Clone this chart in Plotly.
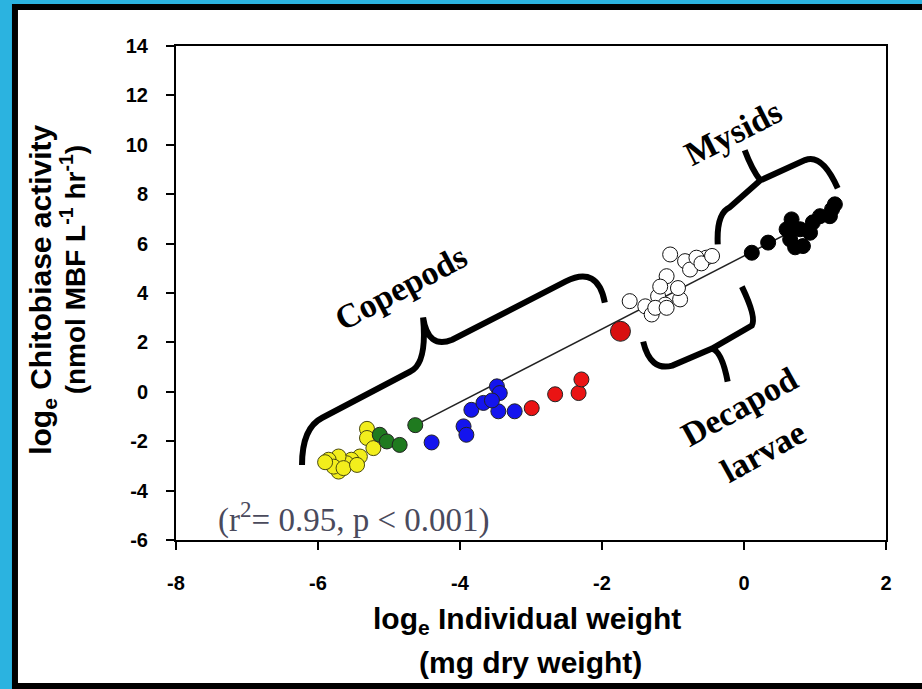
import plotly.graph_objects as go

# Zooplankton groups: loge individual weight (mg DW) vs loge chitobiase activity
yellow_x = [-5.31, -5.31, -5.22, -5.41, -5.53, -5.60, -5.71, -5.85, -5.71, -5.78, -5.64, -5.45, -5.90]
yellow_y = [-1.50, -1.87, -2.28, -2.62, -2.75, -2.89, -2.62, -2.75, -3.23, -3.03, -3.09, -2.96, -2.85]

green_x = [-5.13, -5.03, -4.85, -4.63]
green_y = [-1.74, -2.01, -2.15, -1.35]

blue_x = [-4.40, -3.95, -3.91, -3.84, -3.67, -3.48, -3.44, -3.46, -3.23, -3.55]
blue_y = [-2.05, -1.40, -1.74, -0.73, -0.45, 0.22, -0.05, -0.79, -0.79, -0.35]

red_x = [-2.99, -2.66, -2.33, -2.29]
red_y = [-0.66, -0.10, -0.05, 0.50]

red_big_x = [-1.74]
red_big_y = [2.45]

white_x = [-1.61, -1.39, -1.30, -1.21, -1.11, -1.09, -1.04, -0.83, -0.76, -0.53,
           -0.90, -1.25, -0.93, -1.18, -0.67, -1.09, -0.60, -0.45]
white_y = [3.67, 3.46, 3.13, 3.87, 3.53, 4.68, 5.56, 5.29, 4.95, 5.43,
           3.74, 3.40, 4.20, 4.26, 5.43, 3.40, 5.20, 5.50]

black_x = [0.11, 0.34, 0.67, 0.65, 0.79, 0.93, 0.83, 1.07, 1.24, 1.28, 1.21, 0.60, 0.97, 0.72]
black_y = [5.63, 6.04, 6.98, 6.17, 6.58, 6.44, 5.90, 7.11, 7.39, 7.59, 7.11, 6.58, 6.86, 5.85]

# Regression fit
fit_intercept = 5.50
fit_slope = 1.48
fit_x = [-4.63, 1.30]
fit_y = [fit_intercept + fit_slope * v for v in fit_x]

x_ticks = [-8, -6, -4, -2, 0, 2]
y_ticks = [-6, -4, -2, 0, 2, 4, 6, 8, 10, 12, 14]

fig = go.Figure()

fig.add_trace(go.Scatter(x=fit_x, y=fit_y, mode="lines",
                         line=dict(color="#222222", width=1.5), hoverinfo="skip"))


def group(xs, ys, fill, size=15, edge="#222222"):
    fig.add_trace(go.Scatter(
        x=xs, y=ys, mode="markers",
        marker=dict(size=size, color=fill, line=dict(color=edge, width=1)),
    ))


group(yellow_x, yellow_y, "#f2ee1c", edge="#4a4a10")
group(green_x, green_y, "#1f7a1f")
group(blue_x, blue_y, "#1414ee")
group(red_x, red_y, "#ea1414")
group(red_big_x, red_big_y, "#d81010", size=20)
group(white_x, white_y, "white", edge="#111111")
group(black_x, black_y, "black", edge="black")

# Curly brackets marking the taxonomic groups (data coordinates)
brackets = [
    # Copepods
    "M -6.225,-2.96 Q -6.225,-1.46 -5.94,-1.05 L -4.70,0.82 Q -4.46,1.14 -4.52,3.01 "
    "Q -4.45,1.71 -4.11,2.11 L -2.51,4.47 Q -2.06,5.12 -1.96,3.61",
    # Mysids
    "M -0.37,5.97 Q -0.39,7.23 -0.20,7.47 L 0.23,8.56 L 0.86,9.38 Q 1.10,9.66 1.32,8.24 "
    "M 0.23,8.56 Q 0.11,9.01 0.01,9.78",
    # Decapod larvae
    "M -1.42,2.03 Q -1.32,0.82 -1.01,1.06 L -0.45,1.75 L 0.11,2.68 Q 0.18,3.01 -0.03,4.26 "
    "M -0.45,1.75 Q -0.31,1.63 -0.23,0.41",
]
shapes = [dict(type="path", path=p, xref="x", yref="y",
               line=dict(color="black", width=6), layer="above") for p in brackets]

# White panel with black frame over the cyan page
shapes.insert(0, dict(type="rect", xref="paper", yref="paper",
                      x0=-0.2268, x1=1.07, y0=-0.2955, y1=1.079,
                      fillcolor="white", line=dict(color="black", width=6),
                      layer="below"))

label_font = dict(family="Liberation Serif", size=34, color="black", weight="bold")
annotations = [
    dict(x=-4.83, y=4.22, text="Copepods", textangle=-28, font=label_font),
    dict(x=-0.15, y=10.5, text="Mysids", textangle=-27, font=label_font),
    dict(x=-0.06, y=-0.60, text="Decapod", textangle=-29, font=label_font),
    dict(x=0.27, y=-2.43, text="larvae", textangle=-29, font=label_font),
    dict(x=-7.43, y=-5.1, text="(r<sup>2</sup>= 0.95, p < 0.001)", xanchor="left",
         font=dict(family="Liberation Serif", size=33, color="#4a4a5c")),
]
for a in annotations:
    a.update(xref="x", yref="y", showarrow=False)

title_font = dict(family="Liberation Sans", size=30, color="black", weight="bold")
titles = [
    dict(x=-0.189, y=0.506, textangle=-90, text="log<sub>e</sub> Chitobiase activity"),
    dict(x=-0.145, y=0.548, textangle=-90, text="(nmol MBF L<sup>-1</sup> hr<sup>-1</sup>)",
         font=dict(title_font, size=28)),
    dict(x=0.495, y=-0.162, text="log<sub>e</sub> Individual weight"),
    dict(x=0.499, y=-0.247, text="(mg dry weight)"),
]
for t in titles:
    t.setdefault("font", title_font)
    t.update(xref="paper", yref="paper", xanchor="center", yanchor="middle",
             showarrow=False)
annotations += titles

tick_font = dict(family="Liberation Sans", size=20, color="black", weight="bold")
axis_common = dict(showgrid=False, zeroline=False, showline=True, linecolor="black",
                   linewidth=2, mirror=True, ticks="outside", ticklen=8, tickwidth=2,
                   tickcolor="black", tickfont=tick_font)

fig.update_layout(
    width=922, height=689,
    margin=dict(l=176, r=36, t=46, b=149),
    paper_bgcolor="#2bb3e0",
    plot_bgcolor="rgba(0,0,0,0)",
    showlegend=False,
    shapes=shapes,
    annotations=annotations,
    xaxis=dict(range=[-8, 2], tickvals=x_ticks, ticktext=[str(v) for v in x_ticks],
               ticklabelstandoff=16, **axis_common),
    yaxis=dict(range=[-6, 14], tickvals=y_ticks, ticktext=[str(v) for v in y_ticks],
               ticklabelstandoff=14, **axis_common),
)

fig.write_html("out.html")
